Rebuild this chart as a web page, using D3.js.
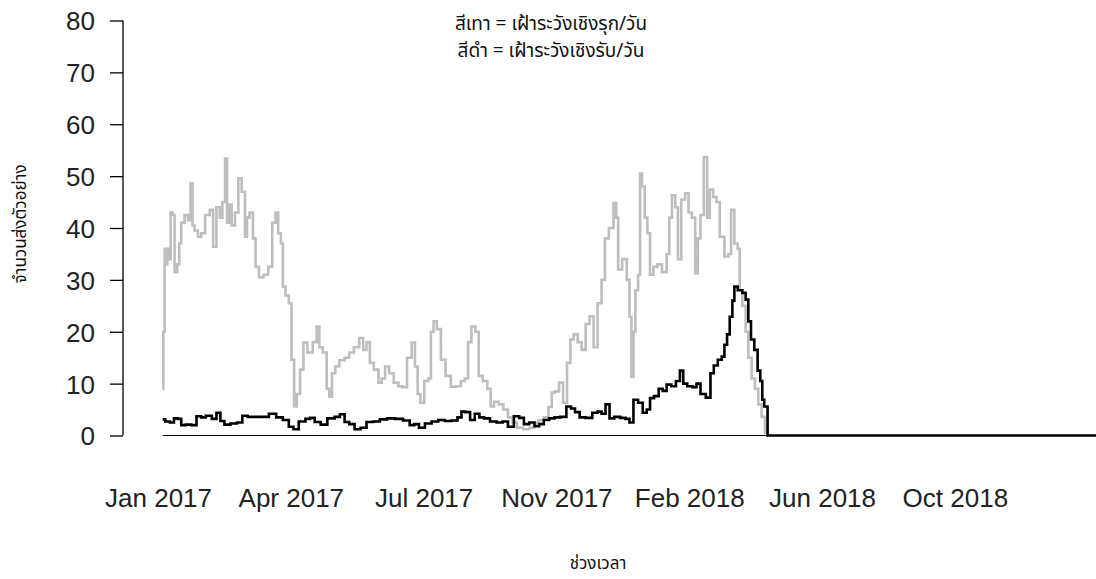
<!DOCTYPE html>
<html>
<head>
<meta charset="utf-8">
<script src="https://cdn.jsdelivr.net/npm/d3@7"></script>
<style>
  html, body { margin: 0; padding: 0; background: #ffffff; }
  svg { display: block; }
  .thai { font-family: Tahoma, "Noto Sans Thai", "Noto Sans", "DejaVu Sans", sans-serif; }
  .num { font-family: Arial, "Liberation Sans", sans-serif; }
</style>
</head>
<body>
<svg id="chart" width="1096" height="579"></svg>
<script>
// ---- data (day index from start of series, value per day) ----
const grayDays = [2,3,4,5,6,7,9,10,12,14,15,17,20,22,24,25,27,30,32,36,39,41,44,46,48,50,51,53,55,58,60,63,65,66,69,71,73,76,80,83,86,88,90,92,93,96,98,100,102,104,107,109,113,117,119,121,124,127,128,131,133,137,141,144,148,152,154,157,159,163,166,168,171,174,178,181,184,188,191,193,195,197,201,203,205,207,210,213,217,221,225,228,231,233,236,239,241,245,248,250,253,257,260,264,267,271,276,280,283,287,291,294,296,299,302,305,308,310,313,316,319,322,325,328,331,334,336,340,343,344,346,350,353,354,356,357,359,361,362,364,366,368,370,373,376,380,383,384,387,389,391,394,397,399,402,404,406,408,411,413,415,418,420,423,427,429,431,434,436,437,440,442,444,447,449,452,454,457,458];
const grayValues = [9,20,36,33,36,34,43,42.5,31.5,33,37,41,42.5,41.5,48.6,40.5,39.5,38.3,39,42.5,43.5,36.4,44,42,45,53.4,41,44.5,40.5,43,49.6,47,38.3,42,43,38,32.5,30.5,31,32.5,41,43,39,37,28.7,27,25.5,14.6,5.6,8,12.7,17.9,16,18,21,17,16,9,7.5,12,13.3,14.5,15,16,17,18.8,16.5,18,14,12.7,10.2,11,13.3,12,10.2,9.5,9.3,15,17.9,13.3,8,6.3,10.5,11,20,22,20.5,14.6,11.5,9.4,9.5,10.5,11,18,21,20,11.5,10.5,9,5.6,6.5,6,5,3.5,2.5,1.5,1.2,1.5,2.5,3,3.5,5.5,8.3,8.5,10.2,6.3,14,18.5,19.5,18,16.5,21.5,23,17,25.5,30,38,40,44.8,42,32,34,30,22.9,11.3,20,28,31,50.5,48,42,39,31,32.5,33,31.5,35,42,46.3,44,34,45.5,46.7,43,42,31.3,38,42.5,53.7,42,47.4,46,45,38.3,34.5,35,43.5,37,36,28,25,20,15,11,9,6,3.6,0.5,0];

const blackDays = [2,6,9,12,15,17,22,25,30,32,37,41,44,47,50,56,60,64,68,73,79,85,90,95,99,102,107,112,114,119,123,129,134,137,141,144,149,153,158,163,168,174,180,186,190,193,197,202,207,212,217,222,226,228,232,235,239,242,246,251,256,260,264,269,272,276,280,284,287,291,295,299,304,308,311,314,318,323,328,331,334,337,340,344,349,352,355,358,362,365,368,370,374,377,380,383,387,390,393,395,399,403,405,409,413,416,418,422,424,426,428,430,432,433,437,440,442,444,446,449,451,453,454,456,457,458,710];
const blackValues = [3.1,2.7,2.5,3.3,3.2,2,2.1,2,3.7,3.5,3.8,3.2,4.4,2.8,2.1,2.3,2.5,3.8,3.6,3.6,3.6,4.2,3.5,3,1.7,1.2,2.7,3.2,3.4,2.6,2.1,3.3,3.6,4.1,2.6,2.2,1.2,1.5,2.6,2.7,3.1,3.3,3.2,2.9,2,2.2,1.5,2.3,2.7,3,2.8,2.9,3.5,4.6,4.5,3,4.2,3.5,3.3,2.7,2.5,2.7,1.7,3.7,3.4,2.2,2.5,1.8,2.2,3,3.3,3.5,3.6,5.6,5.2,4.5,3.5,3.4,4.4,4.6,4.2,6,3.3,3.6,3.4,3.2,2.5,6.9,6.3,4.4,5,7.2,7.6,9,8.6,9.8,9.5,10.5,12.5,10,9.5,9.3,10,8,7.3,12,13.5,14.6,15.2,17.5,19.5,22.9,26,28.7,28,27.5,26.2,22,18.5,16.5,12.5,10.5,6.9,5.6,5.6,0,0];

const yTicks = [0,10,20,30,40,50,60,70,80];
const xTickDays = [-1.5,98.5,198.5,298.5,398.5,498.5,598.5];
const xTickLabels = ["Jan 2017","Apr 2017","Jul 2017","Nov 2017","Feb 2018","Jun 2018","Oct 2018"];
const titleLines = ["สีเทา = เฝ้าระวังเชิงรุก/วัน", "สีดำ = เฝ้าระวังเชิงรับ/วัน"];
const xTitle = "ช่วงเวลา";
const yTitle = "จำนวนส่งตัวอย่าง";

// ---- drawing ----
const svg = d3.select("#chart");
svg.append("rect").attr("width",1096).attr("height",579).attr("fill","#ffffff");

const x = d3.scaleLinear().domain([0, 704.8]).range([160, 1096]);
const y = d3.scaleLinear().domain([0, 80]).range([435.5, 20.5]);

// y axis
const yAxis = d3.axisLeft(y).tickValues(yTicks).tickSize(13).tickPadding(15).tickFormat(d3.format("d"));
const gy = svg.append("g").attr("transform","translate(123,0)").call(yAxis);
gy.select(".domain").attr("stroke","#000").attr("stroke-width",1.3).attr("d","M0," + y(0) + "V" + y(80));
gy.selectAll(".tick line").attr("stroke","#000").attr("stroke-width",1.3).attr("x2",-13);
gy.selectAll(".tick text").attr("class","num").attr("font-size",26).attr("fill","#222").attr("dy","0.36em");

// x axis labels only
const xAxis = d3.axisBottom(x).tickValues(xTickDays).tickSize(0).tickPadding(0)
  .tickFormat((d,i) => xTickLabels[i]);
const gx = svg.append("g").attr("transform","translate(0,507)").call(xAxis);
gx.select(".domain").remove();
gx.selectAll(".tick text").attr("class","num").attr("font-size",26).attr("fill","#222").attr("dy","0");

// zero line under data
svg.append("line")
  .attr("x1", x(grayDays[0])).attr("x2", x(blackDays[blackDays.length-1]))
  .attr("y1", y(0)).attr("y2", y(0))
  .attr("stroke","#000").attr("stroke-width",1.2);

const gray = grayDays.map((d,i) => [d, grayValues[i]]);
const black = blackDays.map((d,i) => [d, blackValues[i]]);
const line = d3.line().x(d => x(d[0])).y(d => y(d[1])).curve(d3.curveStep);

svg.append("path").datum(gray).attr("d", line)
  .attr("fill","none").attr("stroke","#bebebe").attr("stroke-width",2.6);
svg.append("path").datum(black).attr("d", line)
  .attr("fill","none").attr("stroke","#000").attr("stroke-width",2.6);

// titles
svg.append("g").selectAll("text").data(titleLines).join("text")
  .attr("class","thai").attr("x",551).attr("y",(d,i) => 30 + i*27)
  .attr("text-anchor","middle").attr("font-size",19).attr("fill","#111").text(d => d);

svg.append("text").attr("class","thai").attr("x",598).attr("y",569)
  .attr("text-anchor","middle").attr("font-size",17).attr("fill","#111").text(xTitle);

svg.append("text").attr("class","thai")
  .attr("transform","translate(26,224) rotate(-90)")
  .attr("text-anchor","middle").attr("font-size",17).attr("fill","#111").text(yTitle);
</script>
</body>
</html>
